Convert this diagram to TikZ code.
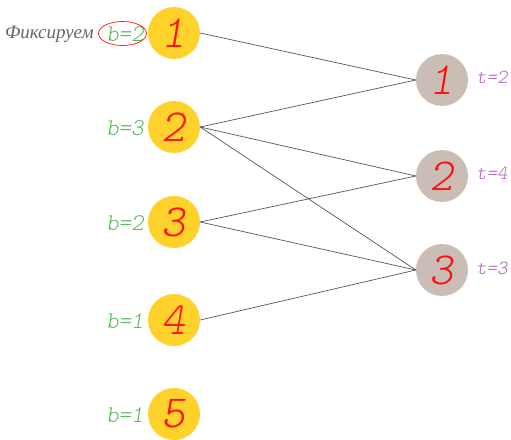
\documentclass[tikz,border=0pt]{standalone}
\usepackage{fontspec}
\usetikzlibrary{shapes.geometric}
\newfontfamily\cyrfont{Liberation Serif}
\newfontfamily\obmono{lmmonolt10-oblique.otf}
\definecolor{leftfill}{HTML}{FED22B}
\definecolor{rightfill}{HTML}{C9BDB5}
\definecolor{bgreen}{HTML}{5CB85C}
\definecolor{tpurple}{HTML}{B063C0}
\definecolor{numred}{HTML}{FF1010}
\definecolor{edgegray}{HTML}{555555}
\definecolor{notegray}{HTML}{666666}
\begin{document}
\begin{tikzpicture}[x=1pt,y=-1pt,
  lnode/.style={circle,fill=leftfill,minimum size=52pt,inner sep=0pt,
    text=numred,font=\fontsize{46}{46}\selectfont\obmono},
  rnode/.style={circle,fill=rightfill,minimum size=52pt,inner sep=0pt,
    text=numred,font=\fontsize{46}{46}\selectfont\obmono},
  blabel/.style={text=bgreen,inner sep=0pt,anchor=east,
    font=\fontsize{24}{24}\selectfont\obmono},
  tlabel/.style={text=tpurple,inner sep=0pt,anchor=west,
    font=\fontsize{20}{20}\selectfont\obmono},
  edge/.style={draw=edgegray,line width=0.7pt}]
\useasboundingbox (0,0) rectangle (511,439);
% left part
\node[lnode] (l1) at (174,33) {1};
\node[lnode] (l2) at (174,127) {2};
\node[lnode] (l3) at (174,222) {3};
\node[lnode] (l4) at (174,320) {4};
\node[lnode] (l5) at (174,414) {5};
% right part
\node[rnode] (r1) at (442,80) {1};
\node[rnode] (r2) at (442,176) {2};
\node[rnode] (r3) at (442,270) {3};
% weights
\node[blabel] (b1) at (144,34) {b=2};
\node[blabel] (b2) at (144,128) {b=3};
\node[blabel] (b3) at (144,223) {b=2};
\node[blabel] (b4) at (144,321) {b=1};
\node[blabel] (b5) at (144,415) {b=1};
\node[text=notegray,inner sep=0pt,anchor=east,
  font=\fontsize{19}{19}\selectfont\cyrfont\itshape] (fix) at (94,34) {Фиксируем};
\node[draw=numred,ellipse,minimum width=48pt,minimum height=24pt,inner sep=0pt,
  line width=0.7pt] (mark) at (122.5,33.5) {};
\node[tlabel] (t1) at (476,77) {t=2};
\node[tlabel] (t2) at (476,173) {t=4};
\node[tlabel] (t3) at (476,268) {t=3};
% edges
\draw[edge] (l1.east) -- (r1.west);
\draw[edge] (l2.east) -- (r1.west);
\draw[edge] (l2.east) -- (r2.west);
\draw[edge] (l2.east) -- (r3.west);
\draw[edge] (l3.east) -- (r2.west);
\draw[edge] (l3.east) -- (r3.west);
\draw[edge] (l4.east) -- (r3.west);
\end{tikzpicture}
\end{document}
